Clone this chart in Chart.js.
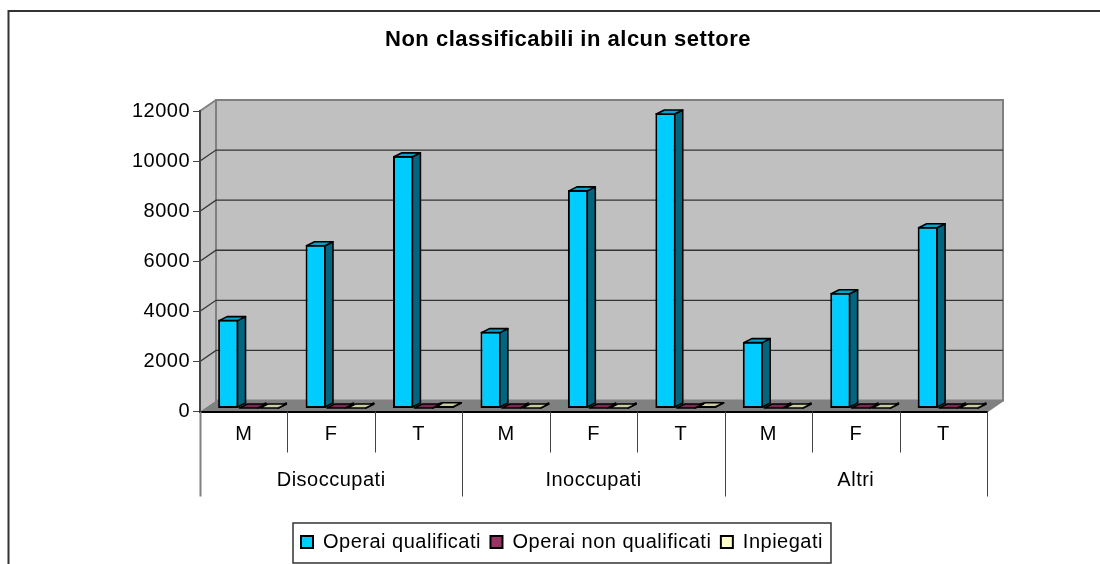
<!DOCTYPE html>
<html><head><meta charset="utf-8">
<style>html,body{margin:0;padding:0;background:#fff;overflow:hidden}canvas{display:block}</style>
<script src="https://cdn.jsdelivr.net/npm/chart.js@4"></script>
</head><body>
<canvas id="c" width="1100" height="564"></canvas>
<script>
const chartTitle = 'Non classificabili in alcun settore';
const categories = ['M','F','T','M','F','T','M','F','T'];
const groups = ['Disoccupati','Inoccupati','Altri'];
const seriesNames = ['Operai qualificati','Operai non qualificati','Inpiegati'];
const operaiQualificati = [3550,6540,10090,3070,8730,11800,2670,4620,7260];
const operaiNonQualificati = [20,20,30,20,20,30,20,20,30];
const impiegati = [30,30,110,30,30,110,30,30,30];
const yTicksMax = 12000, yTickStep = 2000;
const fills = ['#00CCFF','#993366','#FFFFCC'];
const tops = ['#00A3CC','#7A2952','#CCCCA3'];
const sides = ['#006680','#4D1A33','#808066'];
const DX = 16, DY = 11, BAR_SHIFT_X = 5, BAR_SHIFT_Y = 3, BAR_DX = 8, BAR_DY = 4;

function poly(ctx, pts, fill, stroke, lw){
  ctx.beginPath();
  pts.forEach((p,i)=> i?ctx.lineTo(p[0],p[1]):ctx.moveTo(p[0],p[1]));
  ctx.closePath();
  if(fill){ctx.fillStyle=fill;ctx.fill();}
  if(stroke){ctx.strokeStyle=stroke;ctx.lineWidth=lw;ctx.stroke();}
}
const pseudo3d = {
  id:'pseudo3d',
  beforeUpdate(chart){ chart.ctx.letterSpacing='0.5px'; },
  afterLayout(chart){
    chart.scales.y.left = 110;
    const lg=chart.legend;
    lg.left-=6; lg.right-=6; lg.top-=2; lg.bottom-=2;
    lg.legendHitBoxes.forEach(h=>{h.left-=6;h.top-=2;});
  },
  beforeDraw(chart){
    const {ctx,scales:{x,y}}=chart;
    const L=x.left,R=x.right,T=y.top,B=y.bottom;
    ctx.save();
    ctx.strokeStyle='#333';ctx.lineWidth=2;
    ctx.beginPath();ctx.moveTo(8.5,564);ctx.lineTo(8.5,11);ctx.lineTo(1100,11);ctx.stroke();
    poly(ctx,[[L,T],[L+DX,T-DY],[L+DX,B-DY],[L,B]],'#C0C0C0',null);
    poly(ctx,[[L+DX,T-DY],[R+DX,T-DY],[R+DX,B-DY],[L+DX,B-DY]],'#C0C0C0','#808080',2);
    poly(ctx,[[L,B],[L+DX,B-DY],[R+DX,B-DY],[R,B]],'#808080',null);
    y.ticks.forEach(t=>{
      const py=y.getPixelForValue(t.value);
      if(t.value===0) return;
      const top=t.value===yTicksMax;
      ctx.strokeStyle=top?'#808080':'#333';ctx.lineWidth=top?2:1.3;
      ctx.beginPath();ctx.moveTo(L,py);ctx.lineTo(L+DX,py-DY);
      if(!top) ctx.lineTo(R+DX,py-DY);
      ctx.stroke();
    });
    ctx.strokeStyle='#808080';ctx.lineWidth=2;
    ctx.beginPath();ctx.moveTo(R,B);ctx.lineTo(R+DX,B-DY);ctx.stroke();
    ctx.restore();
  },
  beforeDatasetDraw(chart){
    chart.ctx.save();chart.ctx.translate(BAR_SHIFT_X,-BAR_SHIFT_Y);
  },
  afterDatasetDraw(chart,args){
    const ctx=chart.ctx,i=args.index;
    ctx.lineJoin='round';
    chart.getDatasetMeta(i).data.forEach(b=>{
      const l=b.x-b.width/2+1,r=b.x+b.width/2-1,t=Math.min(b.y,b.base-1)+1,bs=b.base-1;
      poly(ctx,[[r,bs],[r+BAR_DX,bs-BAR_DY],[r+BAR_DX,t-BAR_DY],[r,t]],sides[i],'#000',1.6);
      poly(ctx,[[l,t],[l+BAR_DX,t-BAR_DY],[r+BAR_DX,t-BAR_DY],[r,t]],tops[i],'#000',1.6);
    });
    ctx.restore();
  },
  afterDraw(chart){
    const {ctx,scales:{x,x2,y}}=chart;
    ctx.save();
    const step=(x.right-x.left)/categories.length;
    for(let k=0;k<=categories.length;k++){
      const px=Math.round(x.left+k*step)+0.5;
      const major=k%3===0;
      ctx.strokeStyle=(k===0)?'#808080':'#444';ctx.lineWidth=(k===0)?2:1;
      ctx.beginPath();ctx.moveTo(px,y.bottom);ctx.lineTo(px,major?x2.top+44:x.bottom);ctx.stroke();
    }
    const lg=chart.legend,hb=lg.legendHitBoxes;
    const a=Math.min(...hb.map(h=>h.left))-8,b=Math.max(...hb.map(h=>h.left+h.width))+8;
    ctx.strokeStyle='#333';ctx.lineWidth=1.5;
    ctx.strokeRect(a,lg.top+0.5,b-a,lg.height+0.5);
    ctx.restore();
  }
};
const mk=(name,data,i)=>({label:name,data,backgroundColor:fills[i],borderColor:'#000',borderWidth:2,borderSkipped:false,
  barPercentage:1,categoryPercentage:0.70,xAxisID:'x',yAxisID:'y'});
Chart.defaults.font.family="'Liberation Sans', Arial, sans-serif";
Chart.defaults.color='#000';
new Chart(document.getElementById('c'),{
  type:'bar',
  data:{labels:categories,datasets:[mk(seriesNames[0],operaiQualificati,0),mk(seriesNames[1],operaiNonQualificati,1),mk(seriesNames[2],impiegati,2)]},
  plugins:[pseudo3d],
  options:{
    responsive:false,animation:false,devicePixelRatio:1,
    layout:{padding:{left:149,right:113,top:0,bottom:0}},
    plugins:{
      tooltip:{enabled:false},
      title:{display:true,text:chartTitle,color:'#000',font:{size:22,weight:'bold',lineHeight:1},padding:{top:29,bottom:60}},
      legend:{position:'bottom',labels:{boxWidth:12,boxHeight:12,padding:9.5,color:'#000',font:{size:20}}}
    },
    scales:{
      y:{min:0,max:yTicksMax,position:'left',
        ticks:{stepSize:yTickStep,padding:3,font:{size:20},color:'#000',callback:v=>String(v)},
        grid:{drawOnChartArea:false,color:'#444',tickLength:7},
        border:{color:'#444',width:2},
        afterFit(s){s.width=51;}},
      x:{type:'category',position:'bottom',offset:true,
        ticks:{autoSkip:false,maxRotation:0,padding:11,font:{size:20},color:'#000'},
        grid:{drawOnChartArea:false,drawTicks:false,color:'rgba(0,0,0,0)'},
        border:{color:'#000',width:2},
        afterFit(s){s.height=41;}},
      x2:{type:'category',labels:groups,position:'bottom',offset:true,
        ticks:{autoSkip:false,maxRotation:0,padding:8,font:{size:20},color:'#000'},
        grid:{display:false},border:{display:false},
        afterFit(s){s.height=72;}}
    }
  }
});
</script>
</body></html>
